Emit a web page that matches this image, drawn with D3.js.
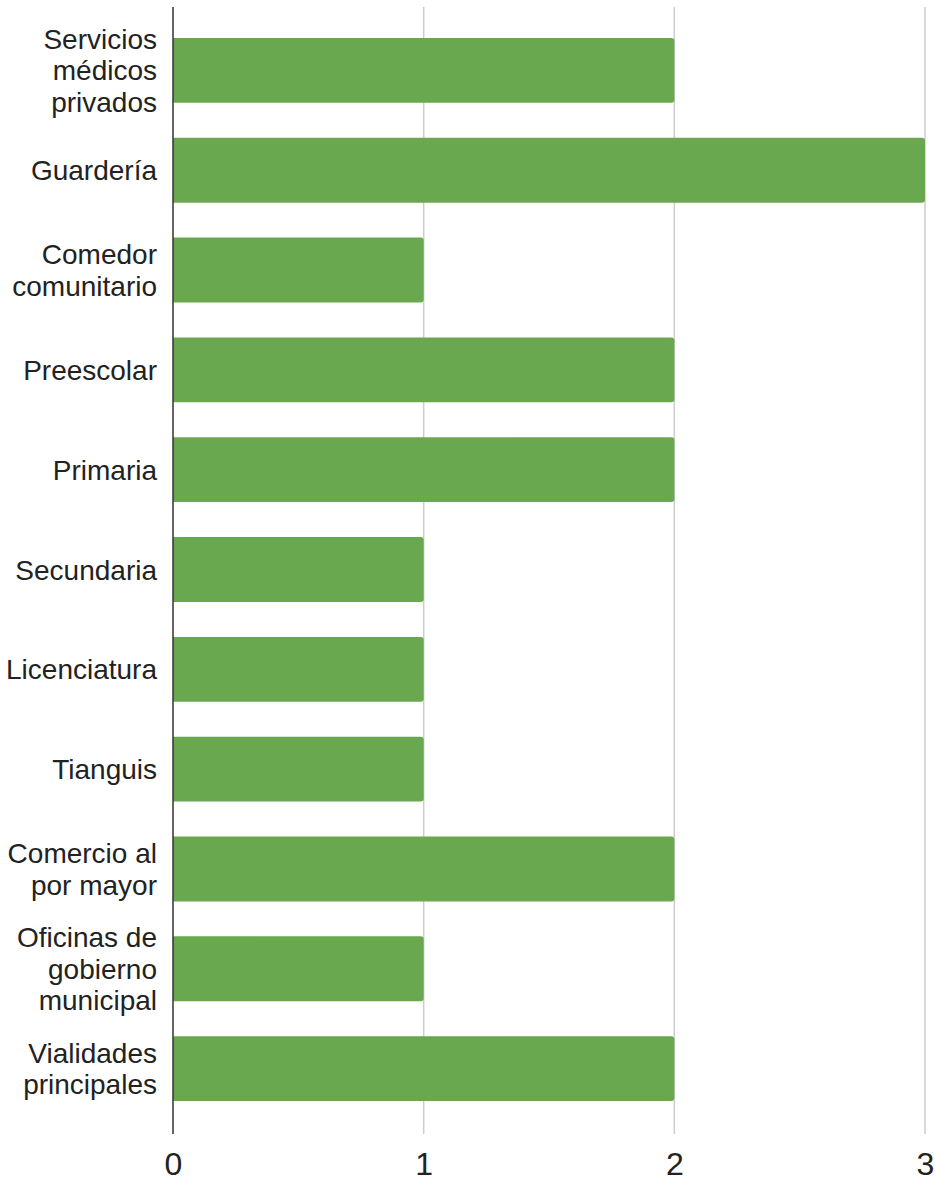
<!DOCTYPE html>
<html>
<head>
<meta charset="utf-8">
<script src="https://cdn.jsdelivr.net/npm/d3@7"></script>
<style>
  body { margin: 0; background: #fff; }
  text { font-family: "Liberation Sans", Arial, sans-serif; fill: #222; }
</style>
</head>
<body>
<div id="chart"></div>
<script>
var categories = ["Servicios médicos privados", "Guardería", "Comedor comunitario", "Preescolar",
  "Primaria", "Secundaria", "Licenciatura", "Tianguis", "Comercio al por mayor",
  "Oficinas de gobierno municipal", "Vialidades principales"];
var values = [2, 3, 1, 2, 2, 1, 1, 1, 2, 1, 2];
var tickValues = [0, 1, 2, 3];

(function mainfigure() {
  var W = 934, H = 1182;
  var left = 173, right = 925, top = 7, bottom = 1134;

  var svg = d3.select("#chart").append("svg")
    .attr("width", W)
    .attr("height", H);

  var x = d3.scaleLinear().domain([0, 3]).range([left, right]);
  var y = d3.scaleBand().domain(categories).range([top, bottom])
    .paddingInner(0.35).paddingOuter(0.32);

  // gridlines
  svg.append("g").selectAll("line")
    .data(tickValues.slice(1))
    .enter().append("line")
    .attr("x1", function(d) { return x(d); })
    .attr("x2", function(d) { return x(d); })
    .attr("y1", top)
    .attr("y2", bottom)
    .attr("stroke", "#cccccc")
    .attr("stroke-width", 1.5);

  // bars (flat left, slightly rounded right)
  var r = 3;
  svg.append("g").selectAll("path")
    .data(categories)
    .enter().append("path")
    .attr("fill", "#6aa84f")
    .attr("d", function(d, i) {
      var x0 = x(0), x1 = x(values[i]), y0 = y(d) - 1, h = y.bandwidth();
      return "M" + x0 + "," + y0 + "H" + (x1 - r) +
        "Q" + x1 + "," + y0 + " " + x1 + "," + (y0 + r) +
        "V" + (y0 + h - r) +
        "Q" + x1 + "," + (y0 + h) + " " + (x1 - r) + "," + (y0 + h) +
        "H" + x0 + "Z";
    });

  // baseline axis
  svg.append("line")
    .attr("x1", x(0)).attr("x2", x(0))
    .attr("y1", top).attr("y2", bottom)
    .attr("stroke", "#333")
    .attr("stroke-width", 1.5);

  // x axis labels
  var xAxis = svg.append("g")
    .attr("transform", "translate(0," + bottom + ")")
    .call(d3.axisBottom(x).tickValues(tickValues).tickFormat(d3.format("d")).tickSize(0));
  xAxis.select(".domain").remove();
  xAxis.selectAll("text")
    .attr("y", 41)
    .attr("dy", 0)
    .style("font-size", "32px")
    .style("font-family", "Liberation Sans, Arial, sans-serif")
    .attr("fill", "#222");

  // category labels, wrapped
  var lineH = 31.5, maxW = 160;
  var labels = svg.append("g").selectAll("text")
    .data(categories)
    .enter().append("text")
    .attr("text-anchor", "end")
    .style("font-size", "28px");

  labels.each(function(d) {
    var t = d3.select(this);
    var words = d.split(" "), lines = [], cur = "";
    var probe = t.append("tspan");
    words.forEach(function(w) {
      var test = cur ? cur + " " + w : w;
      probe.text(test);
      if (probe.node().getComputedTextLength() > maxW && cur) {
        lines.push(cur);
        cur = w;
      } else {
        cur = test;
      }
    });
    lines.push(cur);
    probe.remove();
    var cy = y(d) - 1 + y.bandwidth() / 2;
    var startY = cy - (lines.length - 1) * lineH / 2 + 10;
    lines.forEach(function(l, k) {
      t.append("tspan")
        .attr("x", left - 16)
        .attr("y", startY + k * lineH)
        .text(l);
    });
  });
})();
</script>
</body>
</html>
